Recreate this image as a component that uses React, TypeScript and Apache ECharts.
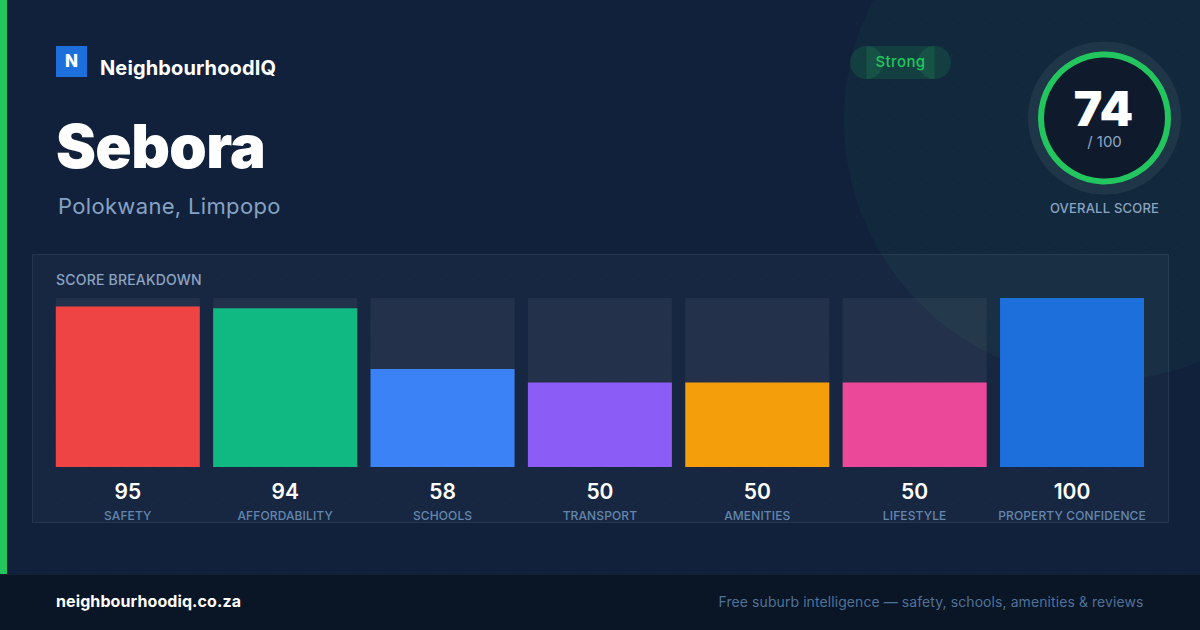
import { useEffect, useRef } from "react";
import * as echarts from "echarts";

const FONT = "Inter, 'Noto Sans', sans-serif";

const categories = ["SAFETY", "AFFORDABILITY", "SCHOOLS", "TRANSPORT", "AMENITIES", "LIFESTYLE", "PROPERTY CONFIDENCE"];
const scores = [95, 94, 58, 50, 50, 50, 100];
const barColors = ["#ef4444", "#10b981", "#3b82f6", "#8b5cf6", "#f59e0b", "#ec4899", "#1d6fdc"];
const overallScore = "74";
const footerNote = "Free suburb intelligence \u2014 safety, schools, amenities & reviews";

// faint dot pattern, one dot every 32px
const dotXs = Array.from({ length: 37 }, (_, i) => 24 + i * 32);
const dotYs = Array.from({ length: 18 }, (_, i) => 24 + i * 32);

// zrender has no letter spacing, so it is set on the svg texts after drawing
const letterSpacing: Record<string, string> = {
  Sebora: "-0.6px",
  "Polokwane, Limpopo": "0.33px",
  NeighbourhoodIQ: "0.13px",
  Strong: "0.4px",
  "SCORE BREAKDOWN": "0.2px",
  "OVERALL SCORE": "0.2px",
  "neighbourhoodiq.co.za": "0.1px",
  [footerNote]: "0.08px",
  AFFORDABILITY: "0.12px",
  SAFETY: "0.12px",
  SCHOOLS: "0.12px",
  TRANSPORT: "0.12px",
  AMENITIES: "0.12px",
  LIFESTYLE: "0.12px",
  "PROPERTY CONFIDENCE": "0.12px",
};

const text = (
  x: number,
  y: number,
  value: string,
  fontSize: number,
  fontWeight: number,
  fill: string,
  textAlign = "left",
) => ({
  type: "text",
  z: 5,
  style: { x, y, text: value, fontSize, fontWeight, fill, fontFamily: FONT, textAlign, textVerticalAlign: "middle" },
});

function buildGraphic() {
  const dots: object[] = [];
  dotXs.forEach((cx) =>
    dotYs.forEach((cy) =>
      dots.push({ type: "circle", z: 1, silent: true, shape: { cx, cy, r: 1 }, style: { fill: "rgba(255,255,255,0.035)" } }),
    ),
  );

  return [
    ...dots,
    // big glow behind the score
    { type: "circle", z: 0, shape: { cx: 1104, cy: 120, r: 260 }, style: { fill: "rgba(34,197,94,0.05)" } },
    // left stripe
    { type: "rect", z: 3, shape: { x: 0, y: 0, width: 7, height: 574 }, style: { fill: "#22c55e" } },
    // footer
    { type: "rect", z: 3, shape: { x: 0, y: 574, width: 1200, height: 56 }, style: { fill: "#0a1525" } },
    { type: "rect", z: 3, shape: { x: 0, y: 574, width: 1200, height: 1 }, style: { fill: "#162233" } },
    // breakdown panel
    {
      type: "rect",
      z: 1,
      shape: { x: 32.5, y: 254.5, width: 1136, height: 268 },
      style: { fill: "rgba(255,255,255,0.03)", stroke: "rgba(255,255,255,0.08)", lineWidth: 1 },
    },
    // logo
    { type: "rect", z: 3, shape: { x: 56, y: 46, width: 31, height: 31 }, style: { fill: "#1d6fdc" } },
    text(71.5, 61, "N", 17, 800, "#ffffff", "center"),
    text(100, 68, "NeighbourhoodIQ", 20, 700, "#ffffff"),
    text(56, 146, "Sebora", 60, 900, "#ffffff"),
    text(58, 206, "Polokwane, Limpopo", 22, 400, "#86a2c3"),
    // badge, the end caps and the middle overlap
    { type: "rect", z: 3, shape: { x: 866.5, y: 46, width: 68, height: 33 }, style: { fill: "rgba(34,197,94,0.15)" } },
    { type: "circle", z: 3, shape: { cx: 866.5, cy: 62.5, r: 16.5 }, style: { fill: "rgba(34,197,94,0.15)" } },
    { type: "circle", z: 3, shape: { cx: 934.5, cy: 62.5, r: 16.5 }, style: { fill: "rgba(34,197,94,0.15)" } },
    text(900.5, 61.5, "Strong", 15, 500, "#22c55e", "center"),
    // score ring
    { type: "circle", z: 3, shape: { cx: 1104.5, cy: 118, r: 76.5 }, style: { fill: "rgba(255,255,255,0.06)" } },
    {
      type: "circle",
      z: 4,
      shape: { cx: 1104.5, cy: 118, r: 63.5 },
      style: { fill: "#0f1b2d", stroke: "#22c55e", lineWidth: 6 },
    },
    text(1103.5, 108, overallScore, 48, 900, "#ffffff", "center"),
    text(1104.5, 141, "/ 100", 15, 400, "#8ea6c3", "center"),
    text(1104.5, 208, "OVERALL SCORE", 13, 500, "#8ba4c2", "center"),
    text(56, 279, "SCORE BREAKDOWN", 14, 500, "#8ba4c2"),
    text(56, 601, "neighbourhoodiq.co.za", 16, 700, "#ffffff"),
    text(1143.5, 601, footerNote, 14, 400, "#4f7299", "right"),
  ];
}

export default function App() {
  const chartRef = useRef<HTMLDivElement>(null);

  useEffect(() => {
    if (!chartRef.current) return;
    const chart = echarts.init(chartRef.current, undefined, { renderer: "svg" });

    chart.setOption({
      animation: false,
      backgroundColor: "#11213b",
      graphic: { elements: buildGraphic() },
      grid: { left: 49.115, top: 298, width: 1101.59, height: 169 },
      xAxis: {
        type: "category",
        data: categories,
        axisLine: { show: false },
        axisTick: { show: false },
        axisLabel: {
          interval: 0,
          margin: 11,
          fontFamily: FONT,
          formatter: (name: string, i: number) => `{score|${scores[i]}}\n{name|${name}}`,
          rich: {
            score: { fontSize: 21, fontWeight: 600, color: "#ffffff", fontFamily: FONT, lineHeight: 26, align: "center" },
            name: { fontSize: 12, fontWeight: 500, color: "#5f83ab", fontFamily: FONT, lineHeight: 22, align: "center" },
          },
        },
      },
      yAxis: { type: "value", min: 0, max: 100, show: false },
      series: [
        {
          type: "bar",
          barWidth: 144,
          showBackground: true,
          backgroundStyle: { color: "rgba(255,255,255,0.05)" },
          data: scores.map((value, i) => ({ value, itemStyle: { color: barColors[i] } })),
        },
      ],
    });

    chartRef.current.querySelectorAll("text").forEach((el) => {
      const spacing = letterSpacing[el.textContent ?? ""];
      if (spacing) el.style.letterSpacing = spacing;
    });

    return () => chart.dispose();
  }, []);

  return <div ref={chartRef} style={{ position: "fixed", left: 0, top: 0, width: 1200, height: 630 }} />;
}
